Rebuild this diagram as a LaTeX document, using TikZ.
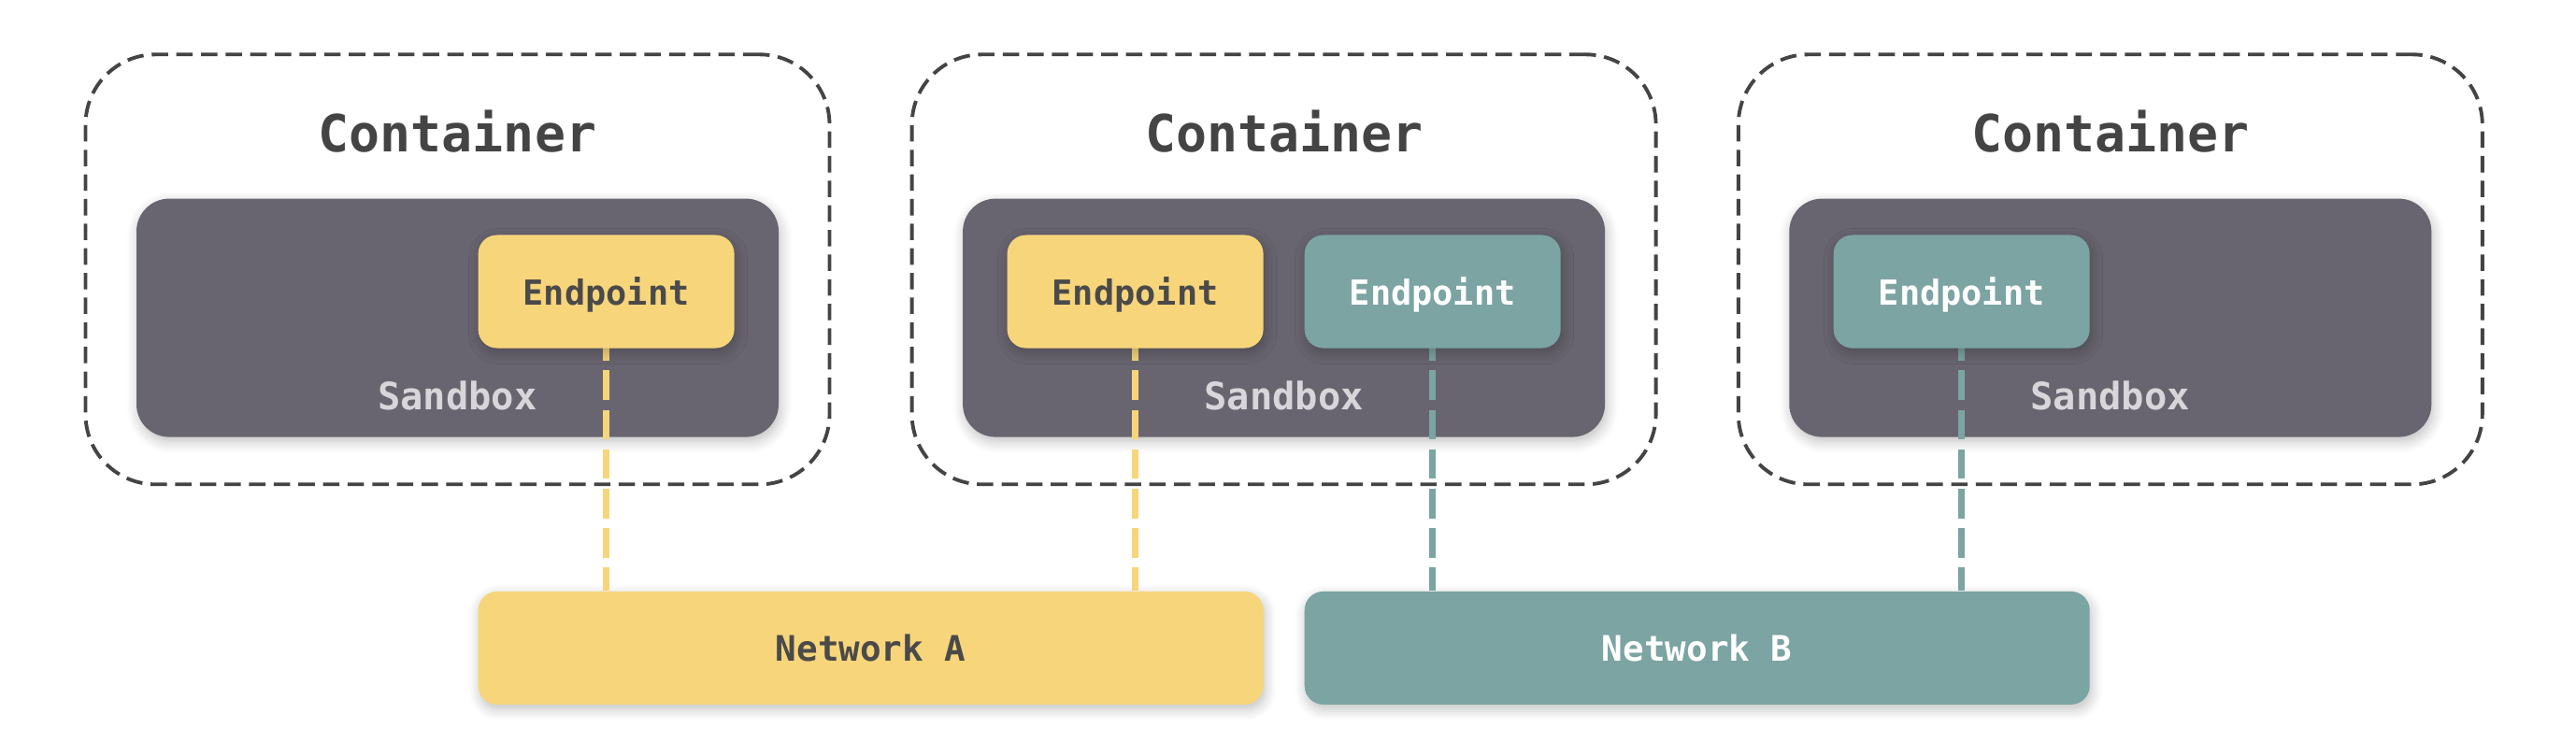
\documentclass[tikz,border=0pt]{standalone}
\usepackage{fontspec}
\newfontfamily\boxfont{DejaVu Sans Mono}
\usetikzlibrary{positioning,shadows.blur}

\definecolor{ylw}{RGB}{247, 213, 122}
\definecolor{tea}{RGB}{123, 164, 163}
\definecolor{sbx}{RGB}{104, 101, 112}
\definecolor{ink}{RGB}{74, 74, 74}
\definecolor{sbt}{RGB}{216, 214, 218}
\definecolor{brd}{RGB}{68, 68, 68}

\tikzset{
  soft/.style={blur shadow={shadow xshift=0.02cm, shadow yshift=-0.05cm,
      shadow blur radius=0.12cm, shadow blur steps=6, shadow opacity=25}},
  containerbox/.style={draw=brd, line width=1.1pt, dash pattern=on 5pt off 2.5pt,
      rounded corners=0.75cm, minimum width=7.96cm, minimum height=4.6cm},
  sandboxbox/.style={fill=sbx, rounded corners=0.35cm, soft,
      minimum width=6.87cm, minimum height=2.55cm},
  endpointbox/.style={rounded corners=0.2cm, soft, inner sep=0pt, text depth=0pt,
      minimum width=2.74cm, minimum height=1.21cm,
      font=\boxfont\bfseries\fontsize{10.5}{12}\selectfont},
  netbox/.style={rounded corners=0.2cm, soft, inner sep=0pt,
      minimum width=8.4cm, minimum height=1.21cm,
      font=\boxfont\bfseries\fontsize{10.7}{12}\selectfont},
  title/.style={text=brd, font=\boxfont\bfseries\fontsize{15.6}{18}\selectfont},
  sblabel/.style={text=sbt, font=\boxfont\bfseries\fontsize{11.5}{13}\selectfont},
  link/.style={line width=2pt, dash pattern=on 9pt off 3pt}
}

\begin{document}
\begin{tikzpicture}
  \useasboundingbox (0, 0) rectangle (27.56, -7.94);

  % containers
  \node[containerbox] (ct1) at (4.895, -2.883) {};
  \node[containerbox] (ct2) at (13.736, -2.883) {};
  \node[containerbox] (ct3) at (22.578, -2.883) {};
  \node[title] (tt1) at (4.895, -1.406) {Container};
  \node[title] (tt2) at (13.736, -1.406) {Container};
  \node[title] (tt3) at (22.578, -1.406) {Container};

  % sandboxes
  \node[sandboxbox] (sb1) at (4.895, -3.401) {};
  \node[sandboxbox] (sb2) at (13.736, -3.401) {};
  \node[sandboxbox] (sb3) at (22.578, -3.401) {};
  \node[sblabel] (sl1) at (4.895, -4.236) {Sandbox};
  \node[sblabel] (sl2) at (13.736, -4.236) {Sandbox};
  \node[sblabel] (sl3) at (22.578, -4.236) {Sandbox};

  % networks
  \node[netbox, fill=ylw, text=ink] (netA) at (9.316, -6.934) {Network A};
  \node[netbox, fill=tea, text=white] (netB) at (18.157, -6.934) {Network B};

  % endpoints
  \coordinate (e1) at (6.486, -3.12);
  \coordinate (e2) at (12.146, -3.12);
  \coordinate (e3) at (15.327, -3.12);
  \coordinate (e4) at (20.987, -3.12);

  \draw[link, ylw] (e1) -- (e1 |- netA.north);
  \draw[link, ylw] (e2) -- (e2 |- netA.north);
  \draw[link, tea] (e3) -- (e3 |- netB.north);
  \draw[link, tea] (e4) -- (e4 |- netB.north);

  \node[endpointbox, fill=ylw, text=ink] (ep1) at (e1) {Endpoint};
  \node[endpointbox, fill=ylw, text=ink] (ep2) at (e2) {Endpoint};
  \node[endpointbox, fill=tea, text=white] (ep3) at (e3) {Endpoint};
  \node[endpointbox, fill=tea, text=white] (ep4) at (e4) {Endpoint};
\end{tikzpicture}
\end{document}
